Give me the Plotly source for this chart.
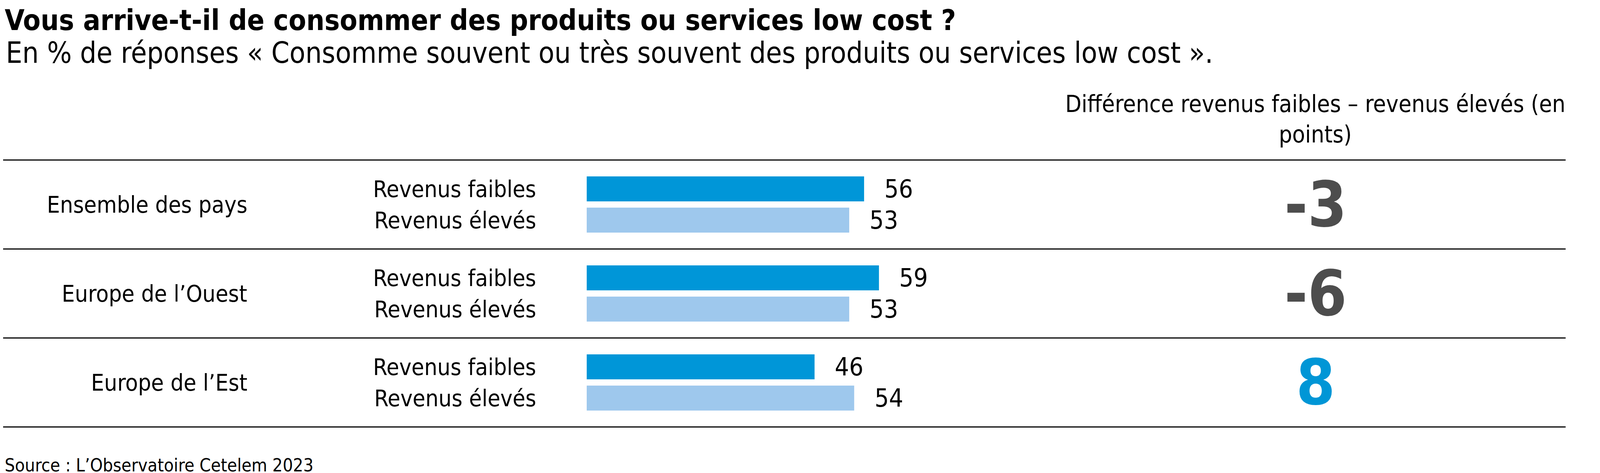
import plotly.graph_objects as go

# ---- data ----
regions = ["Ensemble des pays", "Europe de l’Ouest", "Europe de l’Est"]
series_names = ["Revenus faibles", "Revenus élevés"]
revenus_faibles = [56, 59, 46]
revenus_eleves = [53, 53, 54]
difference = [-3, -6, 8]

title = "Vous arrive-t-il de consommer des produits ou services low cost ?"
subtitle = "En % de réponses « Consomme souvent ou très souvent des produits ou services low cost »."
diff_header = "Différence revenus faibles – revenus élevés (en<br>points)"
source = "Source : L’Observatoire Cetelem 2023"

# ---- layout constants (pixels) ----
W, H = 4250, 1212
BAR_X0 = 1494          # pixel where value 0 sits
PX_PER_UNIT = 12.68    # pixels per percentage point
ROW0_CENTER = 516      # pixel (from top) of first row center
ROW_H = 228            # row band height
BAR_H = 64
BAR_OFF = 40
LINE_END = 4000
DIFF_X = 3360

FONT = "DejaVu Sans Condensed, Liberation Sans Narrow, sans-serif"
C_FAIBLE = "#0096d8"
C_ELEVE = "#9ec8ed"
C_NEG = "#4d4d4d"
C_POS = "#0096d6"

def py(px):
    return 1 - px / H

off = BAR_OFF / ROW_H
bw = BAR_H / ROW_H
idx = list(range(len(regions)))

fig = go.Figure()
fig.add_trace(go.Bar(
    x=revenus_faibles, y=[i - off for i in idx], orientation="h",
    width=bw, marker=dict(color=C_FAIBLE, line=dict(width=0)),
    name=series_names[0], hoverinfo="x"))
fig.add_trace(go.Bar(
    x=revenus_eleves, y=[i + off for i in idx], orientation="h",
    width=bw, marker=dict(color=C_ELEVE, line=dict(width=0)),
    name=series_names[1], hoverinfo="x"))

ann = []
# title, subtitle, source
ann.append(dict(text=f"<b>{title}</b>", x=3 / W, y=py(0), xref="paper", yref="paper",
                xanchor="left", yanchor="top", showarrow=False, borderpad=0,
                font=dict(family=FONT, size=73, color="#000000")))
ann.append(dict(text=subtitle, x=5 / W, y=py(127), xref="paper", yref="paper",
                xanchor="left", yanchor="middle", showarrow=False,
                font=dict(family=FONT, size=74, color="#000000", weight=300)))
ann.append(dict(text=source, x=3 / W, y=py(H), xref="paper", yref="paper",
                xanchor="left", yanchor="bottom", showarrow=False, borderpad=0,
                font=dict(family=FONT, size=46, color="#000000", weight=300)))
ann.append(dict(text=diff_header, x=DIFF_X / W, y=py(297), xref="paper", yref="paper",
                xanchor="center", yanchor="middle", showarrow=False, align="center",
                font=dict(family=FONT, size=60, color="#000000")))

for i in idx:
    ann.append(dict(text=regions[i], x=627 / W, y=i, xref="paper", yref="y",
                    xanchor="right", yanchor="middle", showarrow=False,
                    font=dict(family=FONT, size=59, color="#000000")))
    for name, vals, sign in [(series_names[0], revenus_faibles, -1),
                             (series_names[1], revenus_eleves, 1)]:
        ann.append(dict(text=name, x=1367 / W, y=i + sign * off, xref="paper", yref="y",
                        xanchor="right", yanchor="middle", showarrow=False,
                        font=dict(family=FONT, size=59, color="#000000")))
        ann.append(dict(text=str(vals[i]), x=vals[i], y=i + sign * off, xref="x", yref="y",
                        xanchor="left", yanchor="middle", showarrow=False, xshift=50,
                        font=dict(family=FONT, size=64, color="#000000")))
    d = difference[i]
    ann.append(dict(text=f"<b>{d}</b>", x=DIFF_X / W, y=i, xref="paper", yref="y",
                    xanchor="center", yanchor="middle", showarrow=False,
                    font=dict(family=FONT, size=160, color=C_POS if d > 0 else C_NEG)))

shapes = []
for k in range(len(regions) + 1):
    shapes.append(dict(type="line", xref="paper", yref="y",
                       x0=0, x1=LINE_END / W, y0=k - 0.5, y1=k - 0.5,
                       line=dict(color="#000000", width=3)))

fig.update_layout(
    width=W, height=H,
    margin=dict(l=0, r=0, t=0, b=0),
    paper_bgcolor="#ffffff", plot_bgcolor="#ffffff",
    showlegend=False, barmode="overlay",
    annotations=ann, shapes=shapes,
    xaxis=dict(domain=[BAR_X0 / W, 1], range=[0, (W - BAR_X0) / PX_PER_UNIT],
               visible=False, fixedrange=True),
    yaxis=dict(domain=[0, 1],
               range=[(H - ROW0_CENTER) / ROW_H, -ROW0_CENTER / ROW_H],
               visible=False, fixedrange=True),
)

fig.write_html("out.html")
